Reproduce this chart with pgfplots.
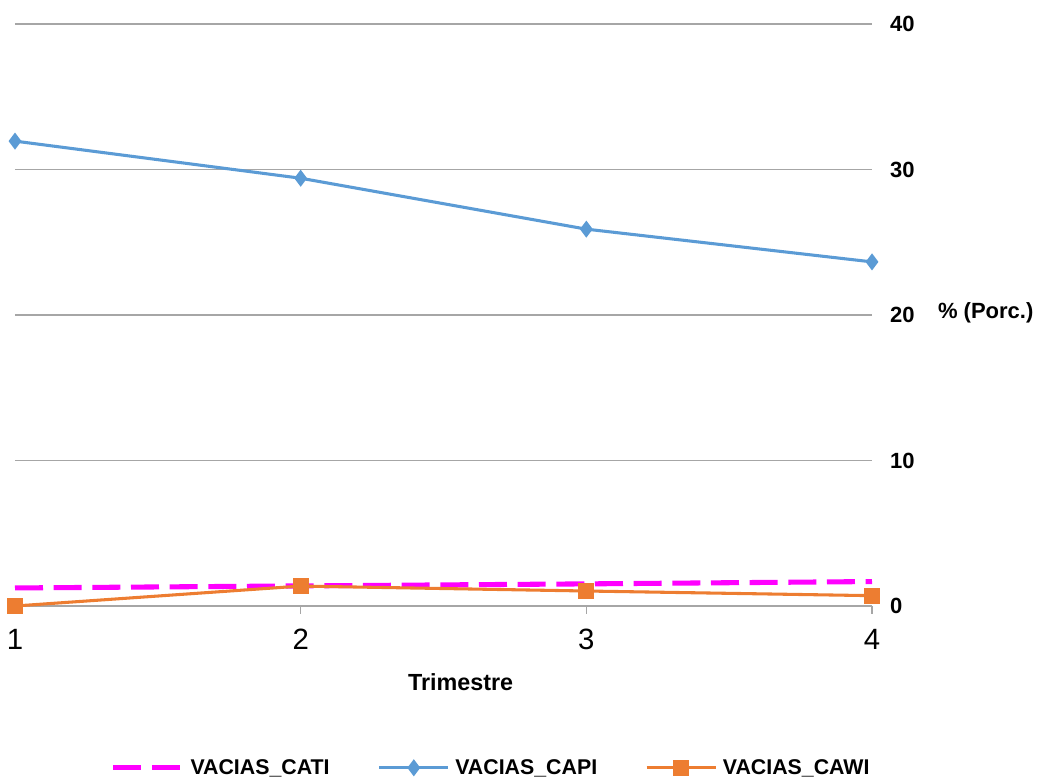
\documentclass[border=0pt]{standalone}
\usepackage{fontspec}
\setmainfont{Liberation Sans}
\usepackage{pgfplots}
\pgfplotsset{compat=1.18}
\definecolor{cati}{HTML}{FF00FF}
\definecolor{capi}{HTML}{5B9BD5}
\definecolor{cawi}{HTML}{ED7D31}
\definecolor{gridc}{HTML}{A6A6A6}
\begin{document}
\begin{tikzpicture}
\useasboundingbox (0,0) rectangle (782.25pt,583.5pt);
\begin{axis}[
  at={(11.25pt,129pt)}, anchor=south west,
  scale only axis,
  width=642.75pt, height=436.5pt,
  xmin=1, xmax=4, ymin=0, ymax=40,
  axis line style={draw=none},
  xtick={1,2,3,4},
  ytick={0,10,20,30,40},
  ymajorgrids, grid style={gridc, line width=0.9pt},
  yticklabel pos=right,
  y tick style={draw=none},
  x tick style={draw=none},
  yticklabel style={font=\fontsize{16.5}{18}\selectfont\bfseries, anchor=west, xshift=10pt},
  xticklabel style={font=\fontsize{22}{24}\selectfont, yshift=-14pt},
  /pgf/number format/assume math mode=true,
  clip=false,
  legend style={draw=none, at={(0.556,-0.278)}, anchor=center,
    font=\fontsize{16}{18}\selectfont\bfseries, column sep=34pt,
    /tikz/every odd column/.append style={column sep=2pt}},
  legend columns=3,
  legend image code/.code={\draw[#1] (0,0) -- (52pt,0) plot coordinates {(26pt,0)};},
]
\draw[gridc, line width=1pt] (axis cs:1,0) -- (axis cs:4,0);
\draw[gridc, line width=1pt] (axis cs:1,0) -- ([yshift=-6pt]axis cs:1,0);
\draw[gridc, line width=1pt] (axis cs:2,0) -- ([yshift=-6pt]axis cs:2,0);
\draw[gridc, line width=1pt] (axis cs:3,0) -- ([yshift=-6pt]axis cs:3,0);
\draw[gridc, line width=1pt] (axis cs:4,0) -- ([yshift=-6pt]axis cs:4,0);
\addplot[cati, line width=3.8pt, dash pattern=on 21pt off 8pt, no marks] coordinates {(1,1.24) (2,1.38) (3,1.52) (4,1.68)};
\addlegendentry{VACIAS\_CATI}
\addplot[capi, line width=2.3pt, mark=diamond*, mark size=4.5pt, mark options={solid, fill=capi}] coordinates {(1,31.95) (2,29.4) (3,25.9) (4,23.65)};
\addlegendentry{VACIAS\_CAPI}
\addplot[cawi, line width=2.3pt, mark=square*, mark size=4.8pt, mark options={solid, fill=cawi}] coordinates {(1,0) (2,1.37) (3,1.03) (4,0.71)};
\addlegendentry{VACIAS\_CAWI}
\node[font=\fontsize{17.5}{19}\selectfont\bfseries] at ([yshift=-57pt]axis cs:2.56,0) {Trimestre};
\node[font=\fontsize{16.5}{18}\selectfont\bfseries, anchor=west] at ([xshift=46pt, yshift=2pt]axis cs:4,20) {\% (Porc.)};
\end{axis}
\end{tikzpicture}
\end{document}
